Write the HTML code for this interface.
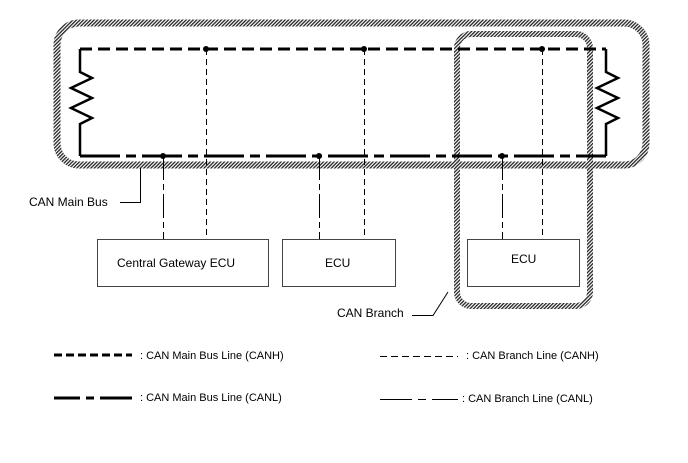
<!DOCTYPE html>
<html><head><style>body{margin:0;background:#fff}svg{display:block}text{font-family:"Liberation Sans",sans-serif;font-size:11px;fill:#000}.b{font-size:12px}</style></head>
<body>
<svg width="688" height="463" viewBox="0 0 688 463">
<defs>
<pattern id="h" width="2.5" height="2.5" patternUnits="userSpaceOnUse" patternTransform="rotate(45)">
<rect width="2.5" height="2.5" fill="#fff"/><rect width="1.3" height="2.5" fill="#222"/></pattern>
</defs>
<rect x="57" y="23" width="589" height="142" rx="22" fill="none" stroke="url(#h)" stroke-width="7"/>
<rect x="457" y="34" width="133" height="272" rx="14" fill="none" stroke="url(#h)" stroke-width="6"/>
<path d="M80 49 H606" stroke="#000" stroke-width="3" fill="none" stroke-dasharray="12 6"/>
<path d="M80 156 H606" stroke="#000" stroke-width="3" fill="none" stroke-dasharray="40 6 10 6"/>
<path d="M80 49 V72 L92 78 L71 88 L92 98 L71 108 L92 118 L80 124 V156" stroke="#000" stroke-width="2.5" fill="none"/>
<path d="M606 49 V72 L618 78 L597 88 L618 98 L597 108 L618 118 L606 124 V156" stroke="#000" stroke-width="2.5" fill="none"/>
<g stroke="#000" stroke-width="1" stroke-dasharray="6 4" fill="none">
<path d="M206.5 49 V239"/><path d="M364.5 49 V239"/><path d="M542.5 49 V239"/>
</g>
<g stroke="#000" stroke-width="1" stroke-dasharray="24 4 6 4" fill="none">
<path d="M163.5 156 V239"/><path d="M319.5 156 V239"/><path d="M502.5 156 V239"/>
</g>
<g fill="#000"><circle cx="206" cy="49" r="3"/><circle cx="364" cy="49" r="3"/><circle cx="542" cy="49" r="3"/>
<circle cx="163" cy="156" r="3"/><circle cx="319" cy="156" r="3"/><circle cx="502" cy="156" r="3"/></g>
<g fill="#fff" stroke="#444" stroke-width="1">
<rect x="97.5" y="239.5" width="171" height="47"/>
<rect x="282.5" y="239.5" width="113" height="47"/>
<rect x="467.5" y="239.5" width="112" height="47"/>
</g>
<text class="b" x="117" y="267">Central Gateway ECU</text>
<text class="b" x="325" y="267">ECU</text>
<text class="b" x="511" y="263">ECU</text>
<path d="M120 202.5 H140.5 V168" stroke="#000" fill="none"/>
<text class="b" x="29" y="206">CAN Main Bus</text>
<path d="M412 315.5 H433 L448 292" stroke="#000" fill="none"/>
<text class="b" x="337" y="317">CAN Branch</text>
<path d="M54 355 H132" stroke="#000" stroke-width="3" stroke-dasharray="8 4"/>
<text x="140" y="359">: CAN Main Bus Line (CANH)</text>
<path d="M54 398 H80 M86 398 H94 M100 398 H132" stroke="#000" stroke-width="3"/>
<text x="140" y="401">: CAN Main Bus Line (CANL)</text>
<path d="M380 356.5 H458" stroke="#000" stroke-width="1" stroke-dasharray="7 4"/>
<text x="466" y="359">: CAN Branch Line (CANH)</text>
<path d="M380 399.5 H412 M418 399.5 H426 M432 399.5 H458" stroke="#000" stroke-width="1"/>
<text x="462" y="402">: CAN Branch Line (CANL)</text>
</svg>
</body></html>
